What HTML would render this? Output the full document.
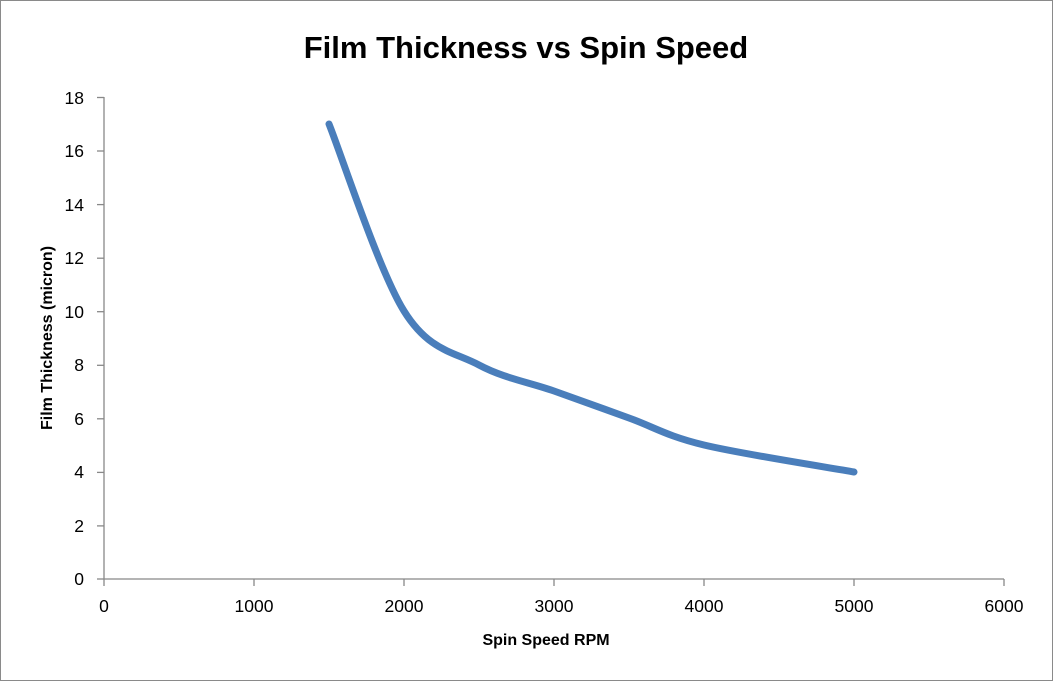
<!DOCTYPE html>
<html><head><meta charset="utf-8"><style>
html,body{margin:0;padding:0;background:#fff;}
svg{display:block;}
text{font-family:"Liberation Sans",sans-serif;fill:#000;}
</style></head><body>
<svg width="1053" height="681" viewBox="0 0 1053 681" xmlns="http://www.w3.org/2000/svg">
<rect x="0.5" y="0.5" width="1052" height="680" fill="#fff" stroke="#8a8a8a" stroke-width="1"/>
<text x="526" y="58" text-anchor="middle" font-size="31" font-weight="bold">Film Thickness vs Spin Speed</text>
<g stroke="#888" stroke-width="1.3" fill="none">
<line x1="104" y1="97" x2="104" y2="579"/>
<line x1="104" y1="579" x2="1004" y2="579"/>
<line x1="97" y1="97.5" x2="104" y2="97.5"/>
<line x1="97" y1="151" x2="104" y2="151"/>
<line x1="97" y1="204.6" x2="104" y2="204.6"/>
<line x1="97" y1="258.2" x2="104" y2="258.2"/>
<line x1="97" y1="311.7" x2="104" y2="311.7"/>
<line x1="97" y1="365.3" x2="104" y2="365.3"/>
<line x1="97" y1="418.8" x2="104" y2="418.8"/>
<line x1="97" y1="472.4" x2="104" y2="472.4"/>
<line x1="97" y1="525.9" x2="104" y2="525.9"/>
<line x1="97" y1="579" x2="104" y2="579"/>
<line x1="104" y1="579" x2="104" y2="586"/>
<line x1="254" y1="579" x2="254" y2="586"/>
<line x1="404" y1="579" x2="404" y2="586"/>
<line x1="554" y1="579" x2="554" y2="586"/>
<line x1="704" y1="579" x2="704" y2="586"/>
<line x1="854" y1="579" x2="854" y2="586"/>
<line x1="1004" y1="579" x2="1004" y2="586"/>
</g>
<g font-size="17.5" text-anchor="end">
<text x="84" y="104">18</text>
<text x="84" y="157">16</text>
<text x="84" y="211">14</text>
<text x="84" y="264">12</text>
<text x="84" y="318">10</text>
<text x="84" y="371">8</text>
<text x="84" y="425">6</text>
<text x="84" y="478">4</text>
<text x="84" y="532">2</text>
<text x="84" y="585">0</text>
</g>
<g font-size="17.5" text-anchor="middle">
<text x="104" y="612">0</text>
<text x="254" y="612">1000</text>
<text x="404" y="612">2000</text>
<text x="554" y="612">3000</text>
<text x="704" y="612">4000</text>
<text x="854" y="612">5000</text>
<text x="1004" y="612">6000</text>
</g>
<text x="546" y="645" text-anchor="middle" font-size="16" font-weight="bold">Spin Speed RPM</text>
<text transform="translate(52,338) rotate(-90)" text-anchor="middle" font-size="16" font-weight="bold">Film Thickness (micron)</text>
<path d="M329,124 C341.5,155.2 379,270.8 404,311 C429,351.2 454,351.7 479,365 C504,378.3 529,382.2 554,391 C579,399.8 604,409 629,418 C654,427 666.5,436 704,445 C741.5,454 829,467.5 854,472" fill="none" stroke="#4a7ebb" stroke-width="7" stroke-linecap="round" stroke-linejoin="round"/>
</svg>
</body></html>
